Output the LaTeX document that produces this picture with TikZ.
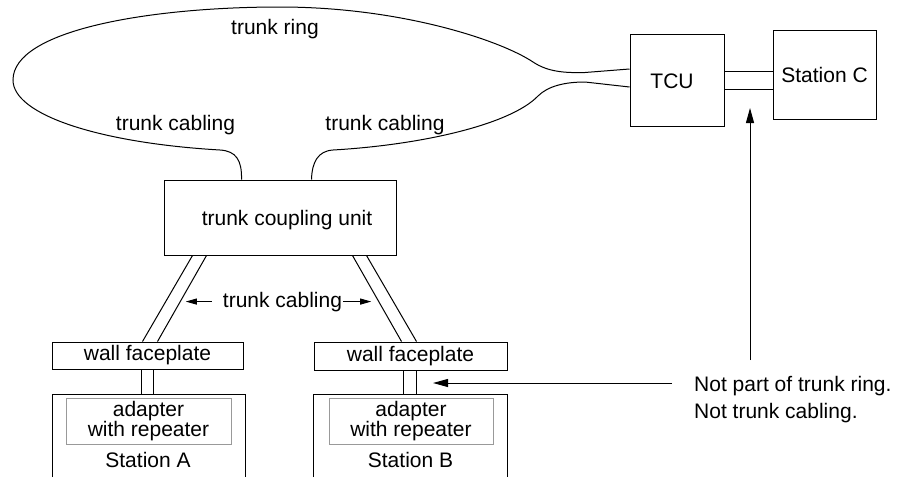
\documentclass[tikz,border=0pt]{standalone}
\usepackage{fontspec}
\setmainfont{Liberation Sans}
\usetikzlibrary{arrows.meta}
\newcommand\diagfont{\fontsize{21}{18}\selectfont}
\begin{document}
\begin{tikzpicture}[x=1pt,y=-1pt]
\tikzset{
  unit/.style={draw, line width=1pt, inner sep=0pt, font=\diagfont},
  card/.style={draw=black!40, line width=1pt, inner sep=0pt, align=center, font=\diagfont},
  lbl/.style={inner sep=0pt, font=\diagfont},
  wire/.style={line width=1pt},
  callout/.style={line width=1pt, -{Triangle[length=15pt,width=8pt]}},
  tag/.style={line width=1pt, -{Triangle[length=11pt,width=6pt]}},
}
\useasboundingbox (0,0) rectangle (904,477);

% boxes
\node[unit, minimum width=232pt, minimum height=75pt] (cu) at (280,217.5) {};
\node[lbl, anchor=base] (culbl) at (287,225) {trunk coupling unit};
\node[unit, minimum width=94pt, minimum height=92pt] (tcu) at (677,80) {};
\node[lbl, anchor=base] (tculbl) at (672,88) {TCU};
\node[unit, minimum width=103pt, minimum height=89pt] (stc) at (824.5,74.5) {Station C};
\node[unit, minimum width=191pt, minimum height=27pt] (wfa) at (147.5,355.5) {wall faceplate};
\node[unit, minimum width=193pt, minimum height=28pt] (wfb) at (410.5,356) {wall faceplate};
\node[card, minimum width=165pt, minimum height=46pt] (ada) at (148.5,421) {adapter\\with repeater};
\node[card, minimum width=164pt, minimum height=46pt] (adb) at (411,421) {adapter\\with repeater};
\node[lbl, anchor=base] (sta) at (148,467) {Station A};
\node[lbl, anchor=base] (stb) at (410.5,467) {Station B};

% station housings, open at the bottom
\coordinate (sa-bl) at (52,477);
\coordinate (sa-tr) at (245,394);
\coordinate (sb-bl) at (313,477);
\coordinate (sb-tr) at (507,394);
\draw[wire] (sa-bl) |- (sa-tr) -- (sa-tr |- sa-bl);
\draw[wire] (sb-bl) |- (sb-tr) -- (sb-tr |- sb-bl);

% labels
\node[lbl, anchor=base] (ringlbl) at (275,34) {trunk ring};
\node[lbl, anchor=base] (cabl) at (175.5,130.5) {trunk cabling};
\node[lbl, anchor=base] (cabr) at (385,130.5) {trunk cabling};
\node[lbl, anchor=base] (cabm) at (282.5,307) {trunk cabling};
\node[lbl, anchor=west, align=left, font=\fontsize{21}{27}\selectfont] (note) at (694,399.2)
  {Not part of trunk ring.\\Not trunk cabling.};

% trunk ring
\coordinate (rl) at ([xshift=78pt]cu.north west);
\coordinate (rr) at ([xshift=148pt]cu.north west);
\coordinate (ru) at ([yshift=11pt]tcu.west);
\coordinate (rd) at ([yshift=-7pt]tcu.west);
\draw[wire] (rl) .. controls (242,160) and (236,151) .. (220,150)
  .. controls (100,143) and (13,115) .. (13,80)
  .. controls (13,30) and (150,7) .. (280,7)
  .. controls (400,7) and (500,40) .. (533,62)
  .. controls (548,72) and (565,73) .. (585,72.5)
  -- (ru);
\draw[wire] (rd) -- (585,82)
  .. controls (565,82) and (548,86) .. (538,96)
  .. controls (510,125) and (420,145) .. (333,150)
  .. controls (318,151) and (312,162) .. (rr);

% lobe cables to the wall faceplates
\draw[wire] ([xshift=29pt]cu.south west) -- ([xshift=91pt]wfa.north west);
\draw[wire] ([xshift=43pt]cu.south west) -- ([xshift=106pt]wfa.north west);
\draw[wire] ([xshift=189pt]cu.south west) -- ([xshift=88pt]wfb.north west);
\draw[wire] ([xshift=203pt]cu.south west) -- ([xshift=103pt]wfb.north west);

% faceplate to station cords
\draw[wire] ([xshift=90pt]wfa.south west) -- ([xshift=90pt]wfa.south west |- sa-tr);
\draw[wire] ([xshift=102pt]wfa.south west) -- ([xshift=102pt]wfa.south west |- sa-tr);
\draw[wire] ([xshift=90pt]wfb.south west) -- ([xshift=90pt]wfb.south west |- sb-tr);
\draw[wire] ([xshift=103pt]wfb.south west) -- ([xshift=103pt]wfb.south west |- sb-tr);

% TCU to Station C cord
\draw[wire] ([yshift=9pt]tcu.east) -- ([yshift=9pt]tcu.east -| stc.west);
\draw[wire] ([yshift=-9pt]tcu.east) -- ([yshift=-9pt]tcu.east -| stc.west);

% pointers
\draw[tag] ([xshift=-11pt]cabm.west) -- ++(-26,0);
\draw[tag] ([xshift=1pt]cabm.east) -- ++(28,0);
\draw[callout] ([xshift=-22pt,yshift=16.2pt]note.west) -- ++(-239,0);
\coordinate (vbase) at (750,360);
\draw[callout] (vbase) -- ++(0,-252);
\end{tikzpicture}
\end{document}
